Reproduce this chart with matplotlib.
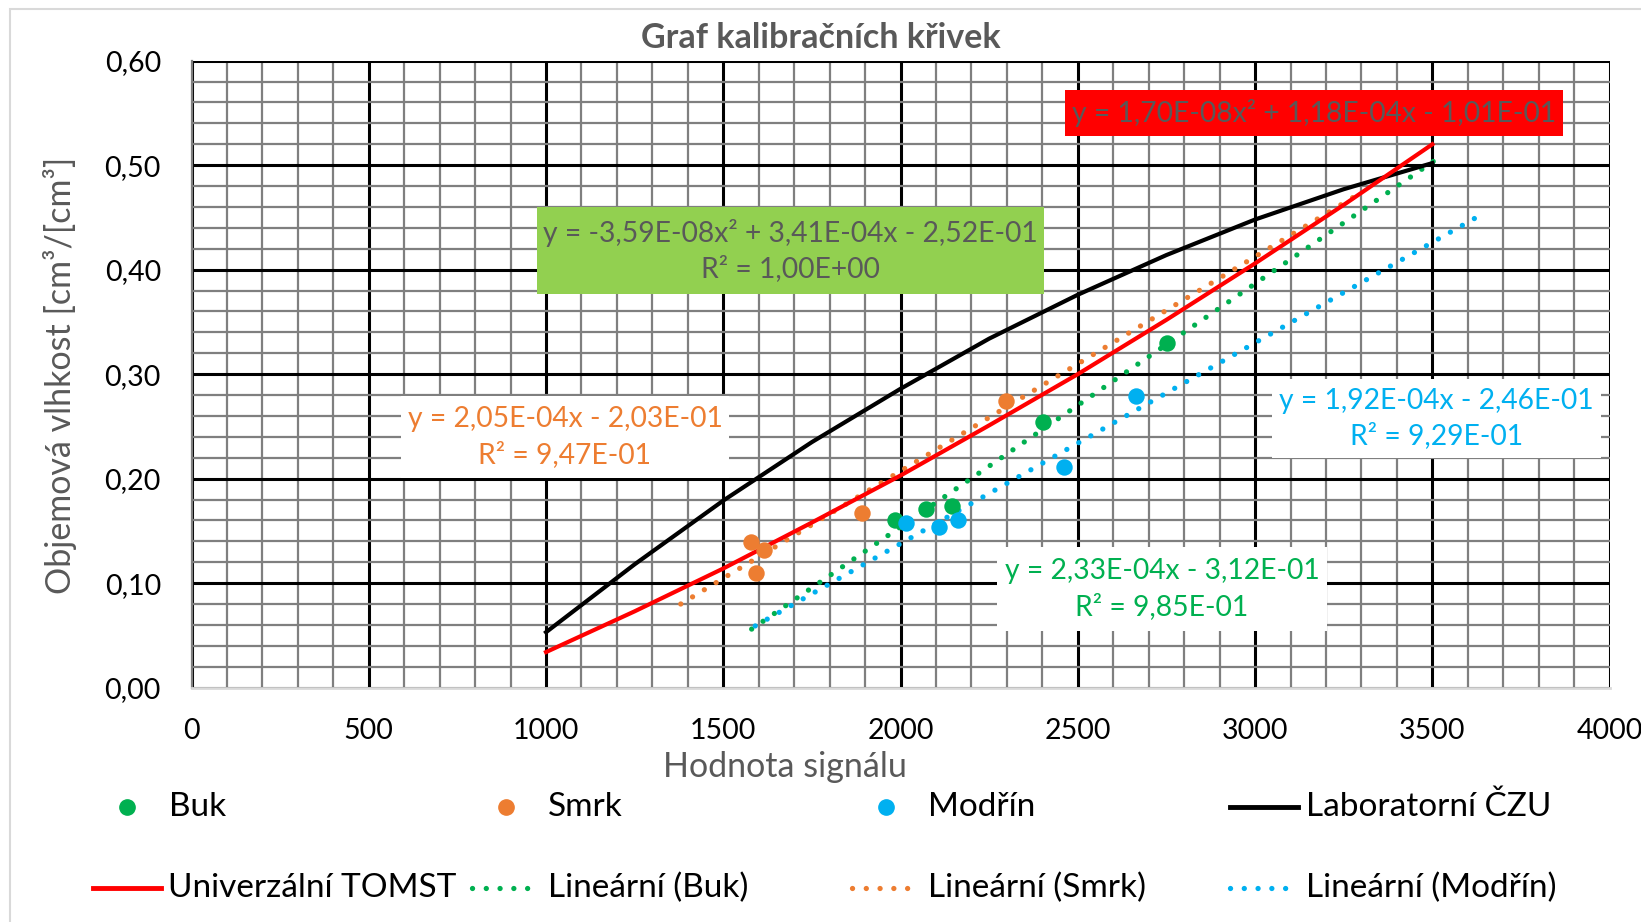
import matplotlib
matplotlib.use("Agg")
import matplotlib.pyplot as plt
from matplotlib.lines import Line2D
from matplotlib.patches import Rectangle
from matplotlib.ticker import MultipleLocator, FuncFormatter

plt.rcParams['font.family'] = ['Lato', 'DejaVu Sans']

# measured points
buk_x = [1984, 2071, 2144, 2402, 2752]
buk_y = [0.160, 0.171, 0.174, 0.254, 0.330]
smrk_x = [1579, 1616, 1593, 1892, 2298]
smrk_y = [0.139, 0.132, 0.110, 0.167, 0.274]
modrin_x = [2016, 2109, 2162, 2462, 2665]
modrin_y = [0.158, 0.154, 0.160, 0.211, 0.279]

# calibration curves
cal_x = [1000, 1250, 1500, 1750, 2000, 2250, 2500, 2750, 3000, 3250, 3500]
lab_y = [0.053, 0.118, 0.179, 0.235, 0.286, 0.334, 0.376, 0.414, 0.448, 0.477, 0.502]
tomst_y = [0.034, 0.073, 0.114, 0.158, 0.203, 0.251, 0.300, 0.352, 0.406, 0.462, 0.520]

# linear trendlines (end points)
tr_buk_x = [1580, 3530]
tr_buk_y = [0.056, 0.510]
tr_smrk_x = [1380, 3300]
tr_smrk_y = [0.080, 0.474]
tr_modrin_x = [1590, 3645]
tr_modrin_y = [0.059, 0.454]

GREEN = '#00b050'
ORANGE = '#ed7d31'
BLUE = '#00b0f0'
RED = '#ff0000'
GRAY = '#595959'

W, H = 1641, 922
fig = plt.figure(figsize=(W / 100, H / 100), dpi=100)
ax = fig.add_axes([191.5 / W, 1 - 687.6 / H, (1609.6 - 191.5) / W, (687.6 - 60.7) / H])

# outer frame
fig.patches.append(Rectangle((10 / W, -0.1), 1.2, 1 - 9.5 / H + 0.1, transform=fig.transFigure,
                             fill=False, edgecolor='#d9d9d9', lw=1.5, zorder=0))

ax.set_xlim(0, 4000)
ax.set_ylim(0, 0.6)
ax.xaxis.set_major_locator(MultipleLocator(500))
ax.xaxis.set_minor_locator(MultipleLocator(100))
ax.yaxis.set_major_locator(MultipleLocator(0.1))
ax.yaxis.set_minor_locator(MultipleLocator(0.02))
ax.grid(which='minor', color='#7f7f7f', lw=1.6, zorder=0)
ax.grid(which='major', color='black', lw=2.2, zorder=0.5)
ax.set_axisbelow(True)
for s in ['top', 'right']:
    ax.spines[s].set_visible(False)
ax.spines['left'].set_color('#7f7f7f')
ax.spines['left'].set_linewidth(1.6)
ax.spines['bottom'].set_color('#d9d9d9')
ax.spines['bottom'].set_linewidth(2)
ax.tick_params(which='both', length=0, labelsize=20.5)
ax.tick_params(axis='x', pad=22)
ax.tick_params(axis='y', pad=22)
ax.yaxis.set_major_formatter(FuncFormatter(lambda v, p: f"{v:.2f}".replace('.', ',')))
ax.xaxis.set_major_formatter(FuncFormatter(lambda v, p: f"{v:.0f}"))

dot = (0, (0.01, 2.6))
ax.plot(tr_buk_x, tr_buk_y, color=GREEN, lw=3.8, ls=dot, dash_capstyle='round', zorder=3)
ax.plot(tr_smrk_x, tr_smrk_y, color=ORANGE, lw=3.8, ls=dot, dash_capstyle='round', zorder=3)
ax.plot(tr_modrin_x, tr_modrin_y, color=BLUE, lw=3.8, ls=dot, dash_capstyle='round', zorder=3)
ax.plot(cal_x, lab_y, color='black', lw=3, zorder=4)
ax.plot(cal_x, tomst_y, color=RED, lw=3, zorder=4)
ax.scatter(buk_x, buk_y, s=140, color=GREEN, zorder=5, linewidths=0)
ax.scatter(smrk_x, smrk_y, s=140, color=ORANGE, zorder=5, linewidths=0)
ax.scatter(modrin_x, modrin_y, s=140, color=BLUE, zorder=5, linewidths=0)

fig.text(821 / W, 1 - 38 / H, 'Graf kalibračních křivek', ha='center', va='center',
         fontsize=24.5, fontweight='bold', color=GRAY)
fig.text(785 / W, 1 - 767 / H, 'Hodnota signálu', ha='center', va='center', fontsize=24.5, color=GRAY)
fig.text(60 / W, 1 - 375 / H, 'Objemová vlhkost [cm³/[cm³]', ha='center', va='center',
         rotation=90, fontsize=24.5, color=GRAY)


def label_box(x0, y0, x1, y1, face, text, color):
    fig.patches.append(Rectangle((x0 / W, 1 - y1 / H), (x1 - x0) / W, (y1 - y0) / H,
                                 transform=fig.transFigure, facecolor=face, edgecolor='none', zorder=6))
    fig.text((x0 + x1) / 2 / W, 1 - (y0 + y1) / 2 / H, text, ha='center', va='center',
             fontsize=20.3, color=color, linespacing=1.4, zorder=7)


label_box(1065, 90, 1563, 136, RED, 'y = 1,70E-08x² + 1,18E-04x - 1,01E-01', GRAY)
label_box(537, 207, 1044, 294, '#92d050', 'y = -3,59E-08x² + 3,41E-04x - 2,52E-01\nR² = 1,00E+00', GRAY)
label_box(401, 396, 729, 478, 'white', 'y = 2,05E-04x - 2,03E-01\nR² = 9,47E-01', ORANGE)
label_box(1272, 379, 1601, 458, 'white', 'y = 1,92E-04x - 2,46E-01\nR² = 9,29E-01', BLUE)
label_box(997, 547, 1327, 631, 'white', 'y = 2,33E-04x - 3,12E-01\nR² = 9,85E-01', GREEN)

# legend
leg = [
    ('Buk', dict(marker='o', color=GREEN, ls='none', ms=11), 0, 0),
    ('Smrk', dict(marker='o', color=ORANGE, ls='none', ms=11), 1, 0),
    ('Modřín', dict(marker='o', color=BLUE, ls='none', ms=11), 2, 0),
    ('Laboratorní ČZU', dict(color='black', lw=3.5), 3, 0),
    ('Univerzální TOMST', dict(color=RED, lw=3.5), 0, 1),
    ('Lineární (Buk)', dict(color=GREEN, lw=3.8, ls=dot, dash_capstyle='round'), 1, 1),
    ('Lineární (Smrk)', dict(color=ORANGE, lw=3.8, ls=dot, dash_capstyle='round'), 2, 1),
    ('Lineární (Modřín)', dict(color=BLUE, lw=3.8, ls=dot, dash_capstyle='round'), 3, 1),
]
col_x = [168.5, 547.5, 927.5, 1306]
row_y = [807, 888]
for name, style, c, r in leg:
    tx = col_x[c]
    ty = 1 - row_y[r] / H
    if style.get('marker'):
        xs = [(tx - 42) / W]
        ys = [ty]
    else:
        xs = [(tx - 76) / W, (tx - 8) / W]
        ys = [ty, ty]
    fig.add_artist(Line2D(xs, ys, transform=fig.transFigure, **style))
    fig.text(tx / W, ty, name, ha='left', va='center', fontsize=24, color='black')

fig.savefig('out.png', dpi=100)
